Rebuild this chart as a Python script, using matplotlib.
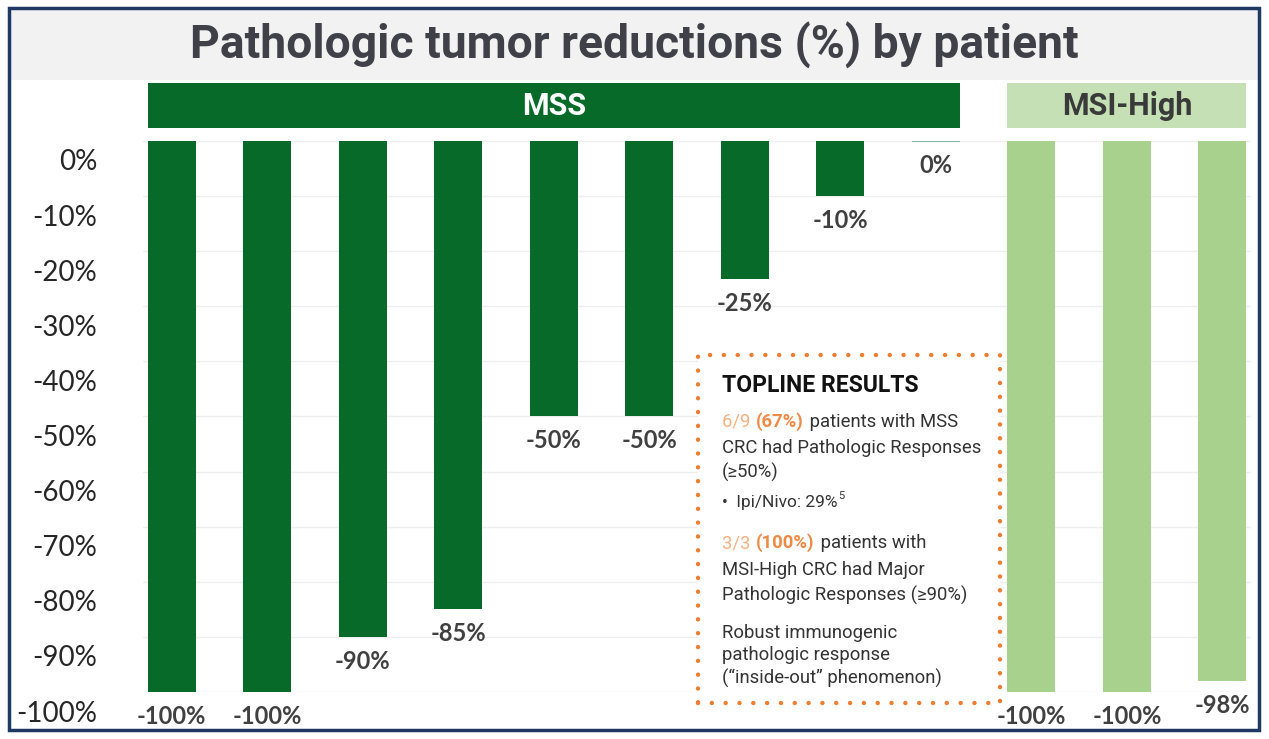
import matplotlib.pyplot as plt
import matplotlib.transforms as mtransforms
from matplotlib.patches import Rectangle

# data
mss_values = [-100, -100, -90, -85, -50, -50, -25, -10, 0]
msi_values = [-100, -100, -98]
group_names = ["MSS", "MSI-High"]
y_ticks = [0, -10, -20, -30, -40, -50, -60, -70, -80, -90, -100]

dark_green = "#086a28"
light_green = "#a9d18e"
header_light = "#c5e0b4"
orange = "#ed7d31"

W, H = 1269, 739
fig = plt.figure(figsize=(W / 100, H / 100), dpi=100)


def fx(x):
    return x / W


def fy(y):
    return 1 - y / H


# outer frame and title band
fig.patches.append(Rectangle((fx(10), fy(80)), fx(1248), 70 / H, transform=fig.transFigure,
                             facecolor="#f2f2f2", edgecolor="none", zorder=0))
fig.patches.append(Rectangle((fx(9), fy(730)), fx(1250), 722 / H, transform=fig.transFigure,
                             facecolor="none", edgecolor="#1f3864", linewidth=2.5, zorder=5))
fig.text(0.5, fy(45), "Pathologic tumor reductions (%) by patient", ha="center", va="center",
         fontsize=33.3, fontweight="bold", family="Roboto", color="#3f4048")

ax = fig.add_axes([fx(143), fy(692), fx(1251 - 143), (692 - 141) / H])
ax.set_xlim(-0.3, 11.3)
ax.set_ylim(-100, 0)
for s in ax.spines.values():
    s.set_visible(False)

mss_x = list(range(len(mss_values)))
msi_x = list(range(len(mss_values), len(mss_values) + len(msi_values)))
bw = 0.5
ax.bar(mss_x, mss_values, width=bw, color=dark_green, zorder=2)
ax.bar(msi_x, msi_values, width=bw, color=light_green, zorder=2)
# zero-height bars show as a thin line
for x, v in zip(mss_x, mss_values):
    if v == 0:
        ax.hlines(v, x - bw / 2, x + bw / 2, color="#8fb5ad", lw=1.5, zorder=3)

ax.set_yticks(y_ticks)
ax.set_yticklabels([f"{v}%" for v in y_ticks])
ax.set_xticks([])
ax.tick_params(axis="y", length=0, pad=33, labelsize=20, labelcolor="#262626")
shift = mtransforms.ScaledTranslation(0, -0.19, fig.dpi_scale_trans)
for lab in ax.get_yticklabels():
    lab.set_family("Lato")
    lab.set_transform(lab.get_transform() + shift)
ax.grid(axis="y", color="#eeeeee", lw=1, zorder=0)

# value labels under bars
for xs, vals in ((mss_x, mss_values), (msi_x, msi_values)):
    for x, v in zip(xs, vals):
        ax.annotate(f"{v}%", (x, v), xytext=(0, -17.5), textcoords="offset points",
                    ha="center", va="center", fontsize=17, fontweight="bold", family="Lato",
                    color="#404040", annotation_clip=False)

# group headers
blend = mtransforms.blended_transform_factory(ax.transData, fig.transFigure)
for name, xs, fc, tc in ((group_names[0], mss_x, dark_green, "white"),
                         (group_names[1], msi_x, header_light, "#3a3a3a")):
    left = xs[0] - bw / 2
    width = xs[-1] - xs[0] + bw
    ax.add_patch(Rectangle((left, fy(128)), width, 45 / H, transform=blend,
                           facecolor=fc, edgecolor="none", clip_on=False))
    ax.text(left + width / 2, fy(106), name, transform=blend, ha="center", va="center",
            fontsize=22, fontweight="bold", family="Roboto", color=tc)

# topline results box
fig.patches.append(Rectangle((fx(698), fy(703)), fx(302), 348 / H, transform=fig.transFigure,
                             facecolor="white", edgecolor=orange, linewidth=3.2,
                             linestyle=(0, (0.01, 3.1)), capstyle="round", zorder=6))

renderer = fig.canvas.get_renderer()


def line(x, y, pieces, size=13.3):
    # pieces: (text, colour, weight[, size, dy_px])
    for p in pieces:
        txt, color, weight = p[:3]
        s = p[3] if len(p) > 3 else size
        dy = p[4] if len(p) > 4 else 0
        t = fig.text(fx(x), fy(y - dy), txt, ha="left", va="center", fontsize=s,
                     fontweight=weight, family=["Roboto", "DejaVu Sans"], color=color, zorder=7)
        x = t.get_window_extent(renderer).x1 + 1


body = "#333333"
fig.text(fx(722), fy(385), "TOPLINE RESULTS", ha="left", va="center", fontsize=16.5,
         fontweight="bold", family="Roboto", color="#111111", zorder=7)
line(722, 422, [("6/9 ", "#f4b183", "normal"), ("(67%)", "#ee8a46", "bold"),
                (" patients with MSS", body, "normal")])
line(722, 448, [("CRC had Pathologic Responses", body, "normal")])
line(722, 472, [("(≥50%)", body, "normal")])
line(722, 502, [("•  Ipi/Nivo: 29%", body, "normal", 12.5), ("5", body, "normal", 8, 6)])
line(722, 543, [("3/3 ", "#f4b183", "normal"), ("(100%)", "#ee8a46", "bold"),
                (" patients with", body, "normal")])
line(722, 570, [("MSI-High CRC had Major", body, "normal")])
line(722, 595, [("Pathologic Responses (≥90%)", body, "normal")])
line(722, 633, [("Robust immunogenic", body, "normal")])
line(722, 655, [("pathologic response", body, "normal")])
line(722, 678, [("(“inside-out” phenomenon)", body, "normal")])

fig.savefig("out.png", dpi=100)
